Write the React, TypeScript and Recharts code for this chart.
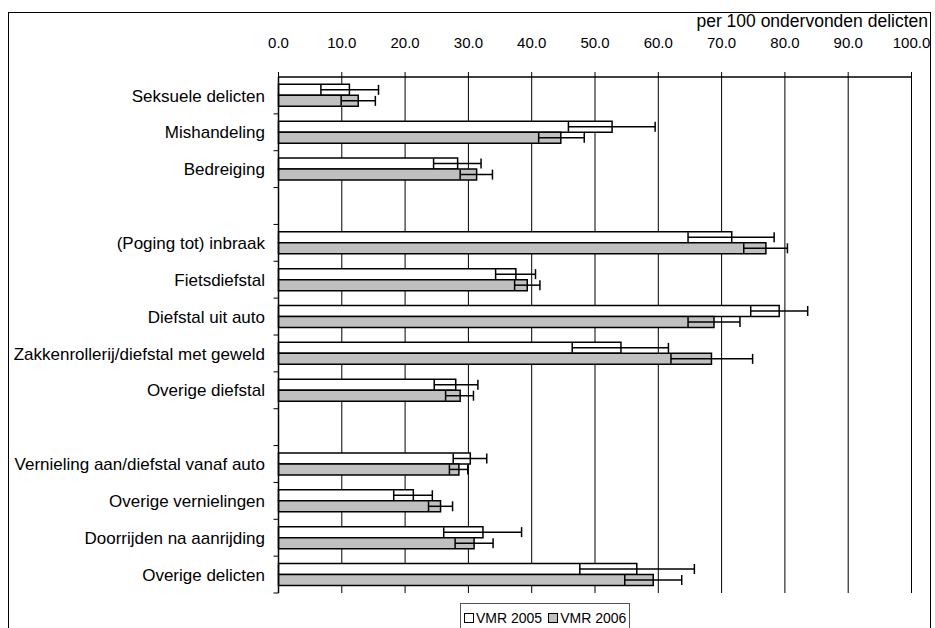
import React from 'react';
import { BarChart, Bar, XAxis, YAxis, CartesianGrid, ErrorBar, Legend } from 'recharts';

const categories = [
  'Seksuele delicten',
  'Mishandeling',
  'Bedreiging',
  '',
  '(Poging tot) inbraak',
  'Fietsdiefstal',
  'Diefstal uit auto',
  'Zakkenrollerij/diefstal met geweld',
  'Overige diefstal',
  ' ',
  'Vernieling aan/diefstal vanaf auto',
  'Overige vernielingen',
  'Doorrijden na aanrijding',
  'Overige delicten',
];

const vmr2005 = [11.2, 52.7, 28.3, null, 71.6, 37.5, 79.1, 54.1, 28.0, null, 30.3, 21.3, 32.3, 56.6];
const low2005 = [6.7, 45.8, 24.5, null, 64.7, 34.3, 74.6, 46.4, 24.6, null, 27.6, 18.2, 26.1, 47.6];
const high2005 = [15.8, 59.5, 32.0, null, 78.3, 40.6, 83.6, 61.6, 31.5, null, 32.9, 24.3, 38.4, 65.7];

const vmr2006 = [12.6, 44.6, 31.3, null, 77.0, 39.3, 68.8, 68.4, 28.7, null, 28.5, 25.6, 30.9, 59.2];
const low2006 = [9.9, 41.1, 28.7, null, 73.5, 37.3, 64.7, 62.0, 26.4, null, 27.0, 23.7, 27.9, 54.7];
const high2006 = [15.3, 48.3, 33.8, null, 80.4, 41.3, 72.9, 74.9, 30.8, null, 29.9, 27.5, 33.9, 63.7];

const xTicks = [0, 10, 20, 30, 40, 50, 60, 70, 80, 90, 100];
const seriesNames = ['VMR 2005', 'VMR 2006'];
const seriesFills = ['#ffffff', '#c0c0c0'];

const data = categories.map((name, i) => ({
  name,
  v2005: vmr2005[i],
  e2005: vmr2005[i] == null ? undefined : [vmr2005[i]! - low2005[i]!, high2005[i]! - vmr2005[i]!],
  v2006: vmr2006[i],
  e2006: vmr2006[i] == null ? undefined : [vmr2006[i]! - low2006[i]!, high2006[i]! - vmr2006[i]!],
}));

const CHART_W = 921;
const CHART_H = 630;
const PLOT_TOP = 64;
const PLOT_BOTTOM = 580;
const Y_AXIS_W = 260;
const MARGIN_LEFT = 9.5;
const TICK_SIZE = 5;
const TICK_MARGIN = 8.5;
const BAND = (PLOT_BOTTOM - PLOT_TOP) / categories.length;
const FONT = 17;

function CategoryTick(props: any) {
  const { x, y, payload } = props;
  const axisX = x + TICK_SIZE + TICK_MARGIN;
  return (
    <g>
      <line x1={axisX - TICK_SIZE} x2={axisX} y1={y + BAND / 2} y2={y + BAND / 2} stroke="#000" strokeWidth={1} />
      <text x={x} y={y} dy="0.36em" textAnchor="end" fontSize={FONT} fill="#000">
        {payload.value}
      </text>
    </g>
  );
}

function LegendBox() {
  return (
    <div style={{ paddingTop: 10 }}>
      <div
        style={{
          display: 'inline-flex',
          alignItems: 'center',
          height: 30,
          border: '1px solid #555',
          boxSizing: 'border-box',
          padding: '0 3px',
          background: '#fff',
          fontSize: 14,
          color: '#000',
          whiteSpace: 'nowrap',
        }}
      >
        {seriesNames.map((n, i) => (
          <span key={n} style={{ display: 'inline-flex', alignItems: 'center', marginRight: i === 0 ? 6 : 0 }}>
            <span
              style={{
                display: 'inline-block',
                width: 8,
                height: 8,
                border: '1.5px solid #000',
                background: seriesFills[i],
                marginRight: 2,
              }}
            />
            <span>{n}</span>
          </span>
        ))}
      </div>
    </div>
  );
}

export default function App() {
  return (
    <div
      style={{
        position: 'absolute',
        left: 8,
        top: 12,
        width: 923,
        height: 640,
        border: '1px solid #000',
        boxSizing: 'border-box',
        fontFamily: '"Liberation Sans", Arial, Helvetica, sans-serif',
        background: '#fff',
      }}
    >
      <div
        style={{
          position: 'absolute',
          right: 2,
          top: -2,
          fontSize: 17.5,
          lineHeight: '20px',
          color: '#000',
        }}
      >
        per 100 ondervonden delicten
      </div>
      <BarChart
        width={CHART_W}
        height={CHART_H}
        data={data}
        layout="vertical"
        margin={{ top: 34, right: CHART_W - 902.5, bottom: 10, left: MARGIN_LEFT }}
        barCategoryGap="20%"
        barGap={0}
      >
        <CartesianGrid horizontal={false} vertical={true} stroke="#000" strokeWidth={1} />
        <XAxis
          type="number"
          orientation="top"
          domain={[0, 100]}
          ticks={xTicks}
          interval={0}
          height={30}
          tickSize={5}
          tickMargin={24}
          tickFormatter={(v: number) => v.toFixed(1)}
          tick={{ fontSize: 15, fill: '#000' }}
          axisLine={{ stroke: '#000', strokeWidth: 1.5 }}
          tickLine={{ stroke: '#000' }}
        />
        <XAxis
          xAxisId="bottom"
          type="number"
          orientation="bottom"
          domain={[0, 100]}
          height={0}
          tick={false}
          tickLine={false}
          axisLine={{ stroke: '#808080', strokeWidth: 2 }}
        />
        <YAxis
          type="category"
          dataKey="name"
          width={Y_AXIS_W}
          interval={0}
          tickSize={TICK_SIZE}
          tickMargin={TICK_MARGIN}
          tickLine={false}
          tick={<CategoryTick />}
          axisLine={{ stroke: '#000', strokeWidth: 1.5 }}
        />
        <Legend verticalAlign="bottom" content={<LegendBox />} wrapperStyle={{ left: 451, width: 'auto' }} />
        <Bar dataKey="v2005" name={seriesNames[0]} fill={seriesFills[0]} stroke="#000" strokeWidth={1.5} isAnimationActive={false}>
          <ErrorBar dataKey="e2005" direction="x" width={5} stroke="#000" strokeWidth={1.5} />
        </Bar>
        <Bar dataKey="v2006" name={seriesNames[1]} fill={seriesFills[1]} stroke="#000" strokeWidth={1.5} isAnimationActive={false}>
          <ErrorBar dataKey="e2006" direction="x" width={5} stroke="#000" strokeWidth={1.5} />
        </Bar>
      </BarChart>
    </div>
  );
}
